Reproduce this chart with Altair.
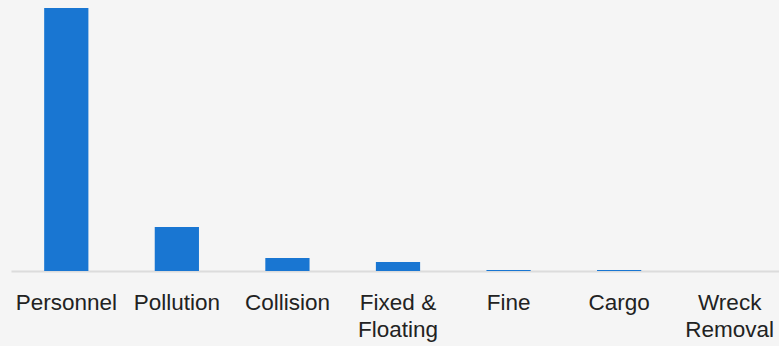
import altair as alt
import pandas as pd

categories = ["Personnel", "Pollution", "Collision", "Fixed &|Floating", "Fine", "Cargo", "Wreck|Removal"]
values = [263, 44, 13, 9, 1, 1, 0]

df = pd.DataFrame({"category": categories, "value": values})

chart = alt.Chart(df).mark_bar(color="#1976d2").encode(
    x=alt.X("category:N", sort=categories, title=None,
            scale=alt.Scale(paddingInner=0.6, paddingOuter=0.3, range=[0, 774]),
            axis=alt.Axis(labelAngle=0, labelExpr="split(datum.label, '|')",
                          labelFont="Liberation Sans", labelFontSize=22.5,
                          labelColor="#222222", labelLineHeight=27,
                          labelPadding=20, ticks=False, tickSize=0,
                          domainColor="#dcdcdc", domainWidth=2,
                          grid=False)),
    y=alt.Y("value:Q", title=None, scale=alt.Scale(domain=[0, 263]), axis=None),
).properties(
    width=768, height=263, background="#f5f5f5",
    padding={"left": 11, "top": 8, "right": 0, "bottom": 75},
    autosize=alt.AutoSizeParams(type="none"),
).configure_view(stroke=None)

chart.save("out.html", embed_options={"renderer": "svg", "actions": False})
